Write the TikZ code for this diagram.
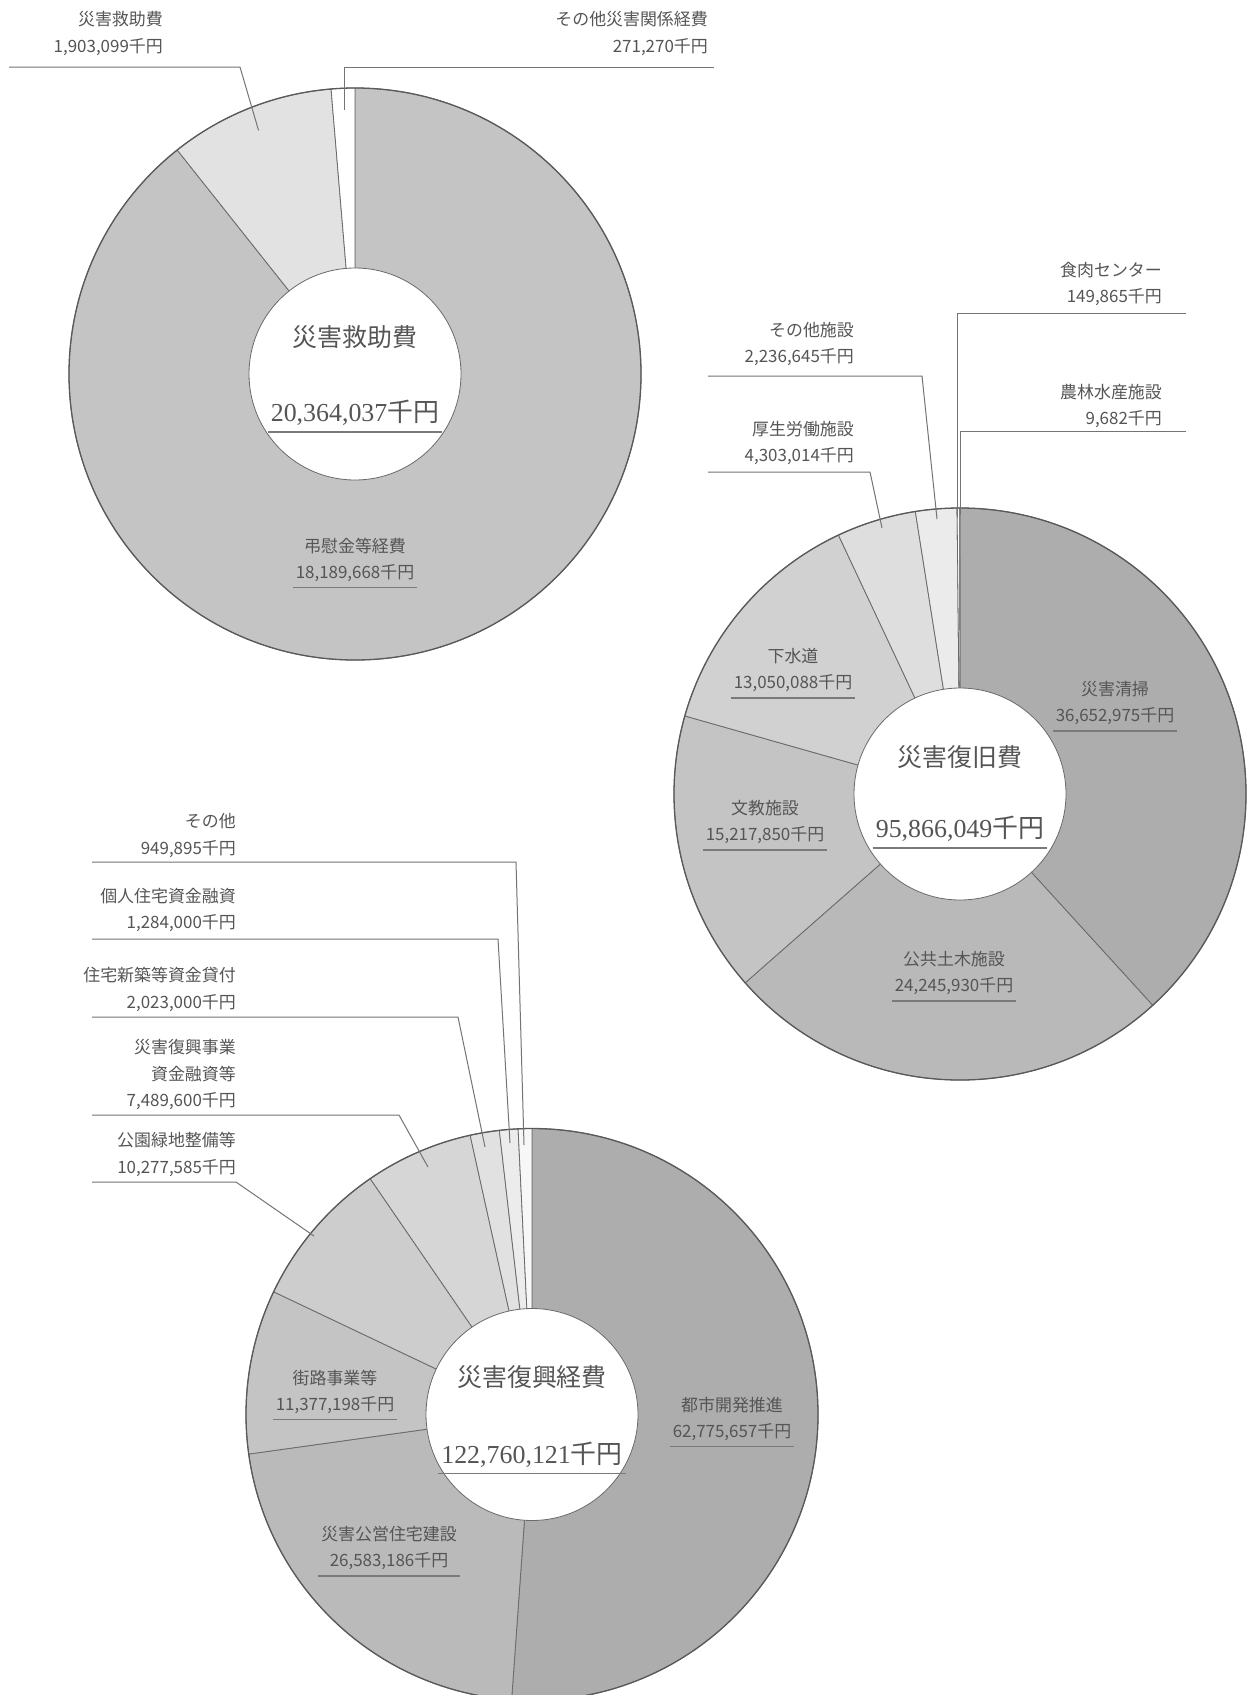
\documentclass[tikz,border=0pt]{standalone}
\usepackage{fontspec}
\setmainfont{Liberation Serif}
\newfontfamily\jpfont{Noto Sans CJK JP}
\usetikzlibrary{calc}
\definecolor{txt}{HTML}{555555}
\definecolor{leadc}{HTML}{747474}
\definecolor{ulc}{HTML}{7A7A7A}
\definecolor{slicec}{HTML}{6A6A6A}
\definecolor{outc}{HTML}{5A5A5A}
% chart 1
\definecolor{ca1}{HTML}{C4C4C4}
\definecolor{ca2}{HTML}{E2E2E2}
% chart 2
\definecolor{cb1}{HTML}{ADADAD}
\definecolor{cb2}{HTML}{B9B9B9}
\definecolor{cb3}{HTML}{C4C4C4}
\definecolor{cb4}{HTML}{D1D1D1}
\definecolor{cb5}{HTML}{DEDEDE}
\definecolor{cb6}{HTML}{EBEBEB}
% chart 3
\definecolor{cc1}{HTML}{ADADAD}
\definecolor{cc2}{HTML}{BABABA}
\definecolor{cc3}{HTML}{C4C4C4}
\definecolor{cc4}{HTML}{CDCDCD}
\definecolor{cc5}{HTML}{D6D6D6}
\definecolor{cc6}{HTML}{E1E1E1}
\definecolor{cc7}{HTML}{ECECEC}
\definecolor{cc8}{HTML}{F7F7F7}
\begin{document}
\begin{tikzpicture}[x=1bp,y=1bp,
  lbl/.style={font=\jpfont\fontsize{17}{27}\selectfont, text=txt, inner sep=0pt, align=right, anchor=east},
  inl/.style={font=\jpfont\fontsize{17}{26}\selectfont, text=txt, inner ysep=0pt, inner xsep=3pt, align=center},
  ttl/.style={font=\jpfont\fontsize{25}{30}\selectfont, text=txt, inner sep=0pt},
  tot/.style={font=\fontsize{26}{30}\selectfont, text=txt, inner ysep=0pt, inner xsep=3pt},
  lead/.style={draw=leadc, line width=1bp},
  uline/.style={draw=ulc, line width=1.3bp},
  slice/.style={draw=slicec, line width=0.8bp},
  outer/.style={draw=outc, line width=1.3bp},
  hole/.style={fill=white, draw=slicec, line width=0.8bp},
]
\useasboundingbox (0,0) rectangle (1249,-1695);
\clip (0,0) rectangle (1249,-1695);
\fill[white] (0,0) rectangle (1249,-1695);
\def\R{286}
\def\r{106}

%================ Chart 1 : 災害救助費 ================
\coordinate (C1) at (355,-374);
\foreach \a/\b/\c in {90/-231.56/ca1, -231.56/-265.20/ca2, -265.20/-270/white}
  \filldraw[slice, fill=\c] (C1) -- ++(\a:\R) arc[start angle=\a, end angle=\b, radius=\R] -- cycle;
\draw[outer] (C1) circle[radius=\R];
\filldraw[hole] (C1) circle[radius=\r];

\node[ttl] (t1) at (355,-337) {災害救助費};
\node[tot] (n1) at (355,-413) {20,364,037{\jpfont 千円}};
\draw[uline] ($(n1.south west)+(0,-6)$) -- ($(n1.south east)+(0,-6)$);

\node[inl] (s1a) at (355,-559.5) {弔慰金等経費\\18,189,668千円};
\draw[uline] ($(s1a.south west)+(0,-6)$) -- ($(s1a.south east)+(0,-6)$);

\node[lbl] (s1b) at (163,-33.5) {災害救助費\\1,903,099千円};
\coordinate (l1s) at (9,-67);
\coordinate (l1k) at (240,-67);
\coordinate (l1e) at ($(C1)+(111.6:262)$);
\draw[lead] (l1s) -- (l1k) -- (l1e);

\node[lbl] (s1c) at (708,-33.5) {その他災害関係経費\\271,270千円};
\coordinate (l2s) at (714,-67);
\coordinate (l2k) at (344,-67);
\coordinate (l2e) at (344,-110);
\draw[lead] (l2s) -- (l2k) -- (l2e);

%================ Chart 2 : 災害復旧費 ================
\coordinate (C2) at (960,-794);
\foreach \a/\b/\c in {90/-47.64/cb1, -47.64/-138.69/cb2, -138.69/-195.84/cb3,
    -195.84/-244.85/cb4, -244.85/-261.01/cb5, -261.01/-269.41/cb6,
    -269.41/-269.96/white, -269.96/-270/white}
  \filldraw[slice, fill=\c] (C2) -- ++(\a:\R) arc[start angle=\a, end angle=\b, radius=\R] -- cycle;
\draw[outer] (C2) circle[radius=\R];
\filldraw[hole] (C2) circle[radius=\r];

\node[ttl] (t2) at (960,-757) {災害復旧費};
\node[tot] (n2) at (960,-829) {95,866,049{\jpfont 千円}};
\draw[uline] ($(n2.south west)+(0,-6)$) -- ($(n2.south east)+(0,-6)$);

\node[inl] (s2a) at (1115,-703) {災害清掃\\36,652,975千円};
\draw[uline] ($(s2a.south west)+(0,-6)$) -- ($(s2a.south east)+(0,-6)$);
\node[inl] (s2b) at (954,-973) {公共土木施設\\24,245,930千円};
\draw[uline] ($(s2b.south west)+(0,-6)$) -- ($(s2b.south east)+(0,-6)$);
\node[inl] (s2c) at (765,-822) {文教施設\\15,217,850千円};
\draw[uline] ($(s2c.south west)+(0,-6)$) -- ($(s2c.south east)+(0,-6)$);
\node[inl] (s2d) at (793,-670) {下水道\\13,050,088千円};
\draw[uline] ($(s2d.south west)+(0,-6)$) -- ($(s2d.south east)+(0,-6)$);

\node[lbl] (s2e) at (854,-443) {厚生労働施設\\4,303,014千円};
\coordinate (m1s) at (708,-472);
\coordinate (m1k) at (870,-472);
\coordinate (m1e) at (882,-528);
\draw[lead] (m1s) -- (m1k) -- (m1e);

\node[lbl] (s2f) at (854,-344) {その他施設\\2,236,645千円};
\coordinate (m2s) at (708,-376);
\coordinate (m2k) at (922,-376);
\coordinate (m2e) at (937,-519);
\draw[lead] (m2s) -- (m2k) -- (m2e);

\node[lbl] (s2g) at (1162,-284) {食肉センター\\149,865千円};
\coordinate (m3s) at (1186,-313);
\coordinate (m3k) at (957.5,-313);
\coordinate (m3e) at (957.5,-518);
\draw[lead] (m3s) -- (m3k) -- (m3e);

\node[lbl] (s2h) at (1162,-406) {農林水産施設\\9,682千円};
\coordinate (m4s) at (1186,-431);
\coordinate (m4k) at (960.6,-431);
\coordinate (m4e) at (960.6,-515);
\draw[lead] (m4s) -- (m4k) -- (m4e);

%================ Chart 3 : 災害復興経費 ================
\coordinate (C3) at (532,-1414.5);
\foreach \a/\b/\c in {90/-94.09/cc1, -94.09/-172.05/cc2, -172.05/-205.41/cc3,
    -205.41/-235.55/cc4, -235.55/-257.51/cc5, -257.51/-263.44/cc6,
    -263.44/-267.21/cc7, -267.21/-270/cc8}
  \filldraw[slice, fill=\c] (C3) -- ++(\a:\R) arc[start angle=\a, end angle=\b, radius=\R] -- cycle;
\draw[outer] (C3) circle[radius=\R];
\filldraw[hole] (C3) circle[radius=\r];

\node[ttl] (t3) at (532,-1376.6) {災害復興経費};
\node[tot] (n3) at (532,-1454.5) {122,760,121{\jpfont 千円}};
\draw[uline] ($(n3.south west)+(0,-6)$) -- ($(n3.south east)+(0,-6)$);

\node[inl] (s3a) at (732,-1418.5) {都市開発推進\\62,775,657千円};
\draw[uline] ($(s3a.south west)+(0,-6)$) -- ($(s3a.south east)+(0,-6)$);
\node[inl] (s3b) at (389,-1548) {災害公営住宅建設\\26,583,186千円};
\draw[uline] ($(s3b.south west)+(0,-6)$) -- ($(s3b.south east)+(0,-6)$);
\node[inl] (s3c) at (335,-1391.5) {街路事業等\\11,377,198千円};
\draw[uline] ($(s3c.south west)+(0,-6)$) -- ($(s3c.south east)+(0,-6)$);

\node[lbl] (s3d) at (236,-1154) {公園緑地整備等\\10,277,585千円};
\coordinate (k1s) at (92,-1182);
\coordinate (k1k) at (236,-1182);
\coordinate (k1e) at (314,-1236);
\draw[lead] (k1s) -- (k1k) -- (k1e);

\node[lbl] (s3e) at (236,-1074.5) {災害復興事業\\資金融資等\\7,489,600千円};
\coordinate (k2s) at (92,-1115);
\coordinate (k2k) at (399,-1115);
\coordinate (k2e) at (428,-1167);
\draw[lead] (k2s) -- (k2k) -- (k2e);

\node[lbl] (s3f) at (236,-989) {住宅新築等資金貸付\\2,023,000千円};
\coordinate (k3s) at (92,-1017);
\coordinate (k3k) at (458,-1017);
\coordinate (k3e) at (485,-1147);
\draw[lead] (k3s) -- (k3k) -- (k3e);

\node[lbl] (s3g) at (236,-910) {個人住宅資金融資\\1,284,000千円};
\coordinate (k4s) at (92,-939);
\coordinate (k4k) at (498,-939);
\coordinate (k4e) at (510,-1143);
\draw[lead] (k4s) -- (k4k) -- (k4e);

\node[lbl] (s3h) at (236,-835.5) {その他\\949,895千円};
\coordinate (k5s) at (92,-862);
\coordinate (k5k) at (516,-862);
\coordinate (k5e) at (524,-1145);
\draw[lead] (k5s) -- (k5k) -- (k5e);
\end{tikzpicture}
\end{document}
